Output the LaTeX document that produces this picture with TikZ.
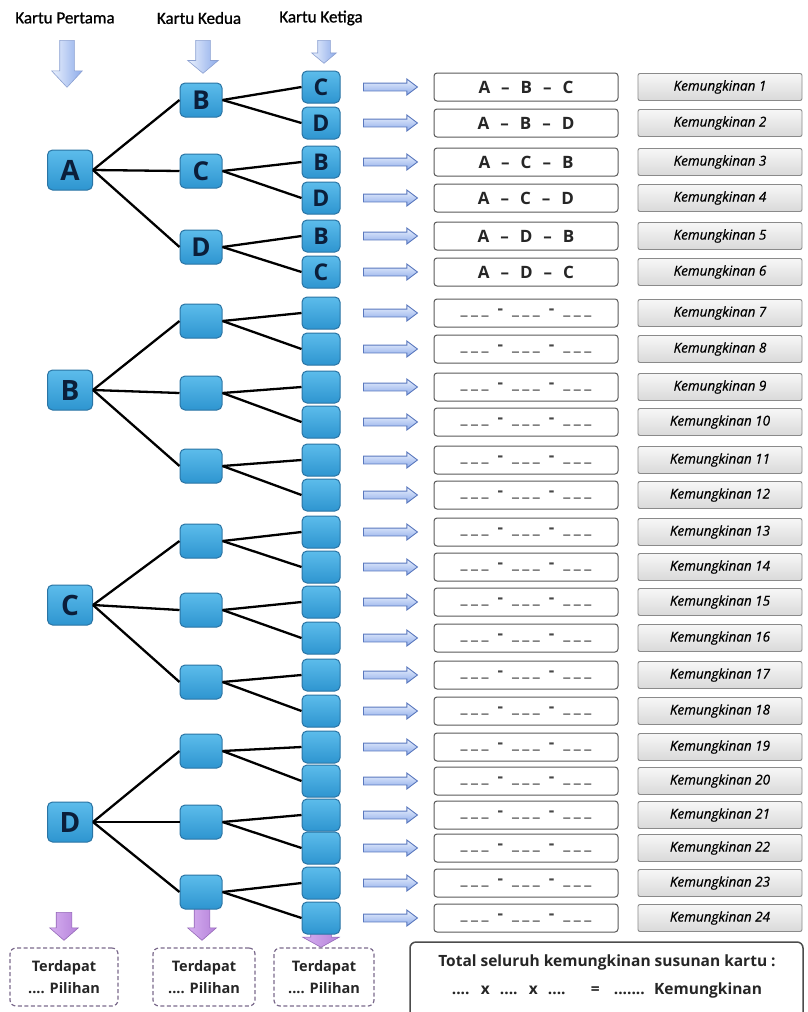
\documentclass[tikz,border=0pt]{standalone}
\usepackage{fontspec}
\setmainfont{Carlito}
\newfontfamily\osans{Open Sans}
\newfontfamily\osanssemi{Open Sans}[FakeBold=0.5]
\newfontfamily\hdrfont{Carlito}[FakeBold=1]
\usetikzlibrary{shapes.arrows}
\definecolor{cardtop}{HTML}{5CBCEB}
\definecolor{cardbot}{HTML}{2E95D0}
\definecolor{cardedge}{HTML}{2A74A4}
\definecolor{cardtext}{HTML}{0B1E3A}
\definecolor{arlight}{HTML}{EAF1FD}
\definecolor{ardark}{HTML}{8DABEA}
\definecolor{aredge}{HTML}{5A78BE}
\definecolor{pulight}{HTML}{D6AEF0}
\definecolor{pudark}{HTML}{B583DA}
\definecolor{puedge}{HTML}{9468B8}
\definecolor{dashedge}{HTML}{7B6A8C}
\definecolor{labtop}{HTML}{F7F7F7}
\definecolor{labbot}{HTML}{D9D9D9}
\definecolor{labedge}{HTML}{8A8A8A}
\definecolor{resedge}{HTML}{5A5A5A}
\definecolor{txt}{HTML}{262626}
\newcommand\ublk{\_\hspace{3.5pt}\_\hspace{3.5pt}\_}
\newcommand\blankres{{\color{txt!85}\ublk\hspace{9pt}-\hspace{9pt}\ublk\hspace{9pt}-\hspace{9pt}\ublk}}
\begin{document}
\begin{tikzpicture}[x=1pt,y=-1pt,
  cardbase/.style={draw=cardedge, line width=1pt, rounded corners=5pt, top color=cardtop, bottom color=cardbot, text=cardtext, inner sep=0pt},
  card1/.style={cardbase, minimum width=45pt, minimum height=40pt, font=\osans\bfseries\fontsize{28}{28}\selectfont},
  card2/.style={cardbase, minimum width=42pt, minimum height=34pt, font=\osans\bfseries\fontsize{26}{26}\selectfont},
  card3/.style={cardbase, minimum width=38pt, minimum height=32pt, font=\osans\bfseries\fontsize{23}{23}\selectfont},
  link/.style={line width=2.3pt, black},
  arrbase/.style={single arrow, inner xsep=0pt, minimum width=0pt, single arrow head indent=0pt, anchor=tail},
  rarr/.style={arrbase, draw=aredge, line width=0.9pt, top color=arlight, bottom color=ardark, minimum height=54pt, inner ysep=3.5pt, single arrow head extend=4pt, single arrow tip angle=74},
  darr/.style={arrbase, rotate=-90, draw=aredge!70, line width=0.6pt, left color=arlight, right color=ardark},
  parr/.style={arrbase, rotate=-90, draw=puedge, line width=0.6pt, left color=pulight, right color=pudark},
  hdr/.style={font=\hdrfont\fontsize{17}{17}\selectfont, text=black},
  resbox/.style={draw=resedge, line width=1pt, rounded corners=3pt, fill=white, minimum width=184pt, minimum height=28pt, inner sep=0pt, text=txt, font=\osans\bfseries\fontsize{17}{17}\selectfont},
  labbox/.style={draw=labedge, line width=0.9pt, rounded corners=2pt, top color=labtop, bottom color=labbot, minimum width=164pt, minimum height=27pt, inner sep=0pt, text=black, font=\osanssemi\itshape\fontsize{13.5}{13.5}\selectfont},
  dbox/.style={draw=dashedge, line width=1.2pt, dash pattern=on 4pt off 2.5pt, rounded corners=6pt, fill=white, minimum height=58pt, inner sep=0pt, align=center, text=txt, font=\osans\bfseries\fontsize{14.5}{22}\selectfont}
]
\useasboundingbox (0,0) rectangle (807,1012);
\fill[white] (0,0) rectangle (807,1012);

% headers
\node[hdr] (h1) at (65,18) {Kartu Pertama};
\node[hdr] (h2) at (199,18) {Kartu Kedua};
\node[hdr] (h3) at (321,18) {Kartu Ketiga};
\node[darr, minimum height=47pt, inner ysep=7pt, single arrow head extend=8pt, single arrow tip angle=86] (d1) at (67,40) {};
\node[darr, minimum height=33pt, inner ysep=7pt, single arrow head extend=8pt, single arrow tip angle=100] (d2) at (203,40) {};
\node[darr, minimum height=23pt, inner ysep=6pt, single arrow head extend=6pt, single arrow tip angle=100] (d3) at (324,40) {};

% purple arrows (behind boxes)
\node[parr, minimum height=28pt, inner ysep=7.5pt, single arrow head extend=6.5pt, single arrow tip angle=98] (p1) at (64,912) {};
\node[parr, minimum height=36pt, inner ysep=7.5pt, single arrow head extend=6.5pt, single arrow tip angle=98] (p2) at (202,904) {};
\node[parr, minimum height=22pt, inner ysep=10pt, single arrow head extend=8pt, single arrow tip angle=122] (p3) at (321,925) {};

% level 1
\node[card1] (L1) at (70,170) {A};
\node[card1] (L2) at (70,390) {B};
\node[card1] (L3) at (70,605) {C};
\node[card1] (L4) at (70,822) {D};

% level 2
\foreach \y/\t [count=\k] in {100/B,171/C,247/D,321/,393/,466/,541/,610/,682/,751/,822/,892/}{
  \node[card2] (M\k) at (201,\y) {\t};
}

% level 3, arrows, results, labels
\foreach \y/\t/\r [count=\k] in {87/C/A\hspace{11pt}–\hspace{11pt}B\hspace{11pt}–\hspace{11pt}C,
  123/D/A\hspace{11pt}–\hspace{11pt}B\hspace{11pt}–\hspace{11pt}D,
  162/B/A\hspace{11pt}–\hspace{11pt}C\hspace{11pt}–\hspace{11pt}B,
  198/D/A\hspace{11pt}–\hspace{11pt}C\hspace{11pt}–\hspace{11pt}D,
  236/B/A\hspace{11pt}–\hspace{11pt}D\hspace{11pt}–\hspace{11pt}B,
  272/C/A\hspace{11pt}–\hspace{11pt}D\hspace{11pt}–\hspace{11pt}C,
  313//\blankres,349//\blankres,387//\blankres,422//\blankres,460//\blankres,495//\blankres,
  532//\blankres,567//\blankres,602//\blankres,638//\blankres,675//\blankres,711//\blankres,
  747//\blankres,781//\blankres,815//\blankres,848//\blankres,883//\blankres,918//\blankres}{
  \node[card3] (T\k) at (321,\y) {\t};
  \node[rarr] (R\k) at (363,\y) {};
  \node[resbox] (S\k) at (526,\y) {\r};
  \node[labbox] (K\k) at (720,\y) {Kemungkinan \k};
}

% links level1 -> level2
\foreach \i in {1,...,4}{
  \foreach \j in {1,2,3}{
    \pgfmathtruncatemacro\m{3*(\i-1)+\j}
    \draw[link] (L\i.east) -- (M\m.west);
  }
}
% links level2 -> level3
\foreach \m in {1,...,12}{
  \pgfmathtruncatemacro\a{2*\m-1}
  \pgfmathtruncatemacro\b{2*\m}
  \draw[link] (M\m.east) -- (T\a.west);
  \draw[link] (M\m.east) -- (T\b.west);
}

% bottom dashed boxes
\node[dbox, minimum width=108pt] (B1) at (64,977) {Terdapat\\.... Pilihan};
\node[dbox, minimum width=102pt] (B2) at (204,977) {Terdapat\\.... Pilihan};
\node[dbox, minimum width=100pt] (B3) at (324,977) {Terdapat\\.... Pilihan};

% total box
\draw[draw=resedge!85!black, line width=1.5pt, rounded corners=6pt, fill=white] (410,942) rectangle (803,1040);
\node[align=center, text=txt, font=\osans\bfseries\fontsize{15.5}{28}\selectfont] (tot) at (607,976)
  {Total seluruh kemungkinan susunan kartu :\\
   .... \hspace{6pt}x\hspace{6pt} .... \hspace{6pt}x\hspace{6pt} .... \hspace{20pt}=\hspace{10pt} ....... \hspace{4pt}Kemungkinan};
\end{tikzpicture}
\end{document}
